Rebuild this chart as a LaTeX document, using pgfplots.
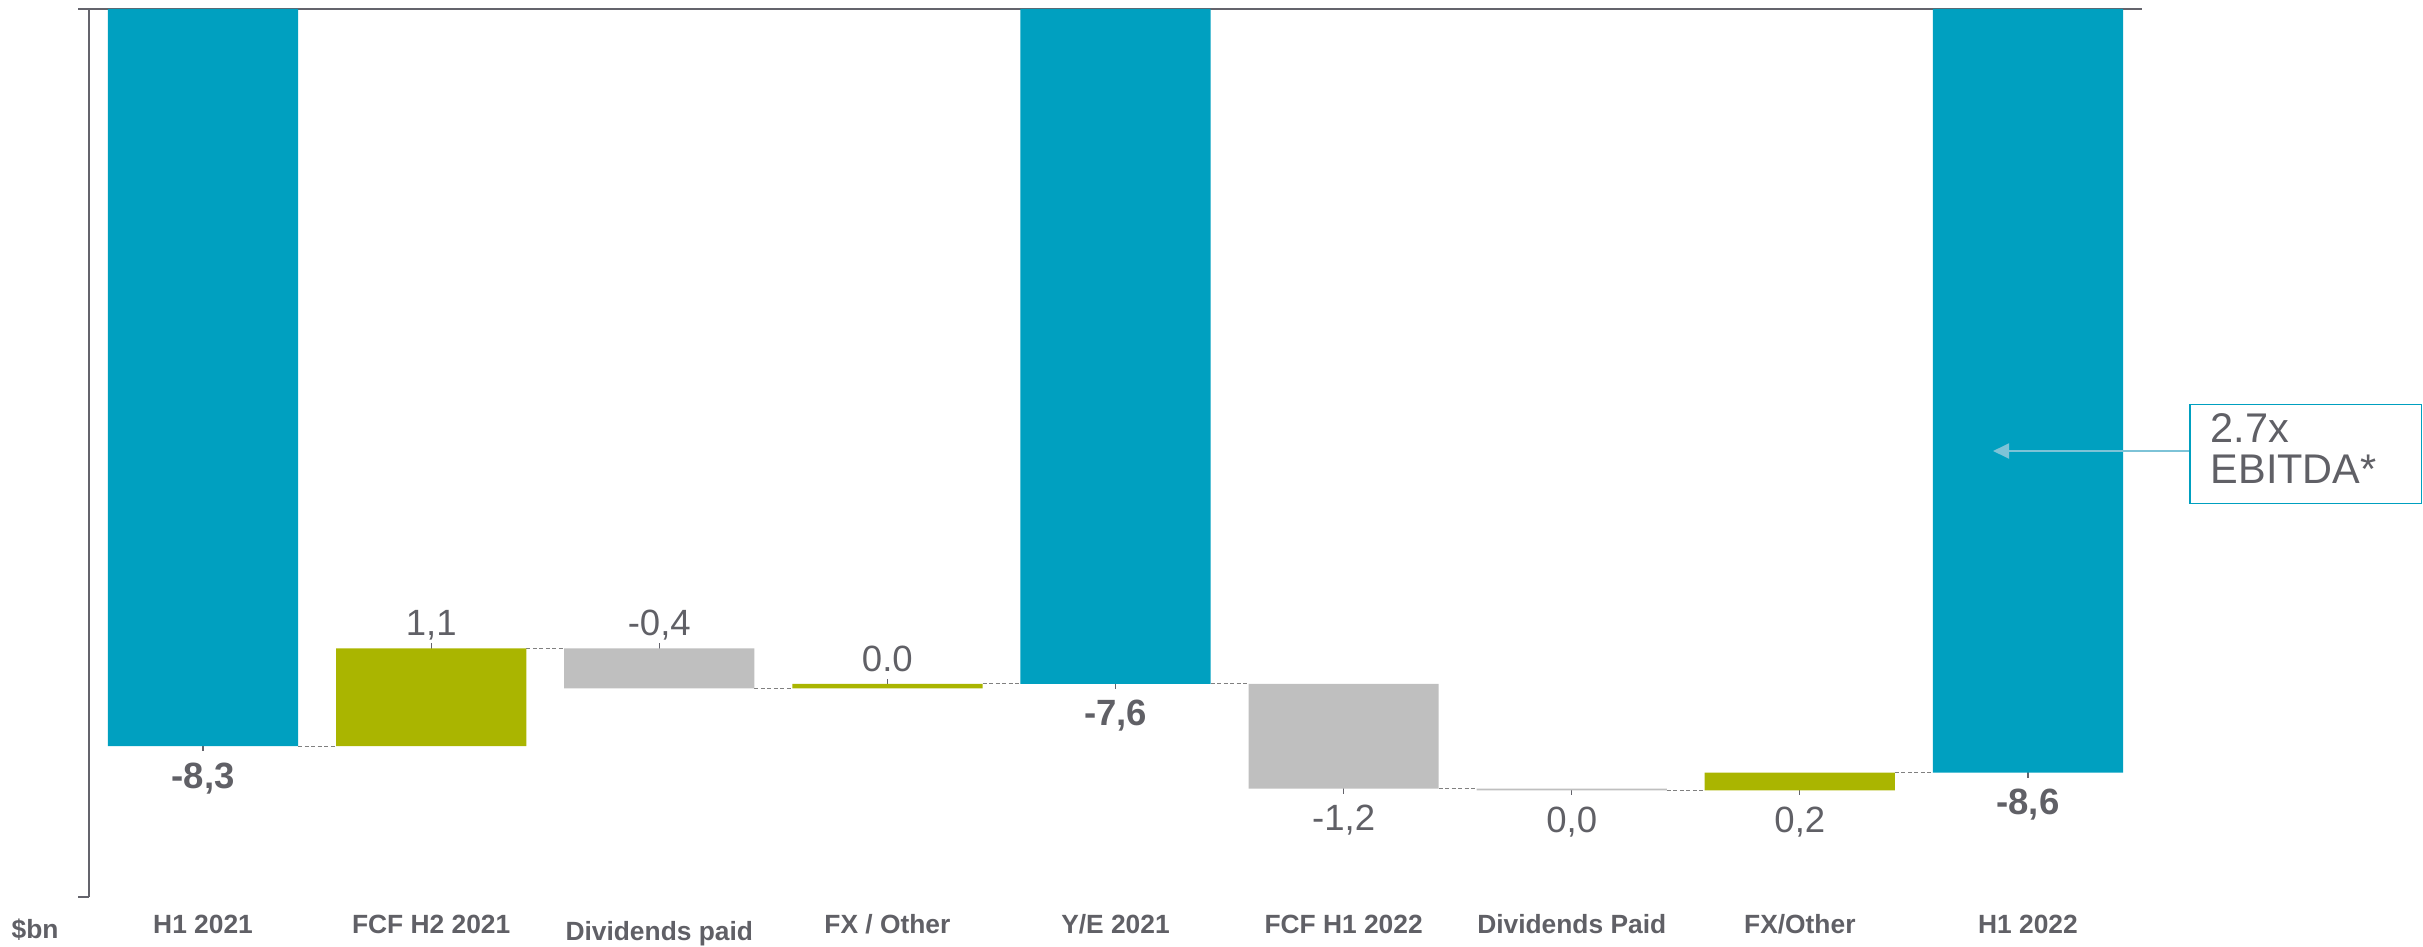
\documentclass[border=0pt]{standalone}
\usepackage{pgfplots}
\pgfplotsset{compat=1.18}
\usepackage{fontspec}
\setmainfont{Liberation Sans}
\usetikzlibrary{arrows.meta}

\definecolor{netdebt}{RGB}{0,160,192}
\definecolor{inflow}{RGB}{170,181,0}
\definecolor{outflow}{RGB}{191,191,191}
\definecolor{txt}{RGB}{96,96,102}
\definecolor{axisgray}{RGB}{100,100,108}
\definecolor{callout}{RGB}{125,195,215}

\tikzset{
  leader/.style={draw=axisgray, line width=0.12mm},
  bridge/.style={draw=black!50, line width=0.1mm, dash pattern=on 0.4mm off 0.25mm},
  vlab/.style={anchor=base, inner sep=0pt, text=txt, font=\fontsize{10.4}{12}\selectfont},
  vlabbold/.style={vlab, font=\fontsize{10.4}{12}\selectfont\bfseries},
}

\begin{document}
\begin{tikzpicture}
\path[use as bounding box] (0,0) rectangle (242.3mm,94.6mm);
\begin{axis}[
  at={(8.9mm,4.9mm)}, anchor=south west,
  scale only axis, width=205.3mm, height=88.8mm,
  xmin=-0.5, xmax=8.5, ymin=-10, ymax=0,
  ybar stacked, bar width=0.834,
  axis y line*=left, axis x line*=bottom,
  x axis line style={draw=none},
  y axis line style={draw=axisgray, line width=0.15mm},
  ytick=\empty,
  xtick={0,...,8},
  xticklabels={H1 2021, FCF H2 2021, \raisebox{-0.7mm}{Dividends paid}, FX / Other, Y/E 2021, FCF H1 2022, Dividends Paid, FX/Other, H1 2022},
  major tick length=0pt,
  x tick style={draw=none},
  xticklabel style={anchor=base, yshift=-3.6mm, text=txt, font=\fontsize{7.5}{9}\selectfont\bfseries},
  clip=false,
]
% upper edge of each floating bar (invisible base of the stack)
\addplot[draw=none, fill=none] coordinates {(0,0) (1,-7.2) (2,-7.2) (3,-7.6) (4,0) (5,-7.6) (6,-8.78) (7,-8.6) (8,0)};
% net debt positions
\addplot[fill=netdebt, draw=none] coordinates {(0,-8.3) (1,0) (2,0) (3,0) (4,-7.6) (5,0) (6,0) (7,0) (8,-8.6)};
% reductions of net debt (bar height = size of the step)
\addplot[fill=inflow, draw=none] coordinates {(0,0) (1,-1.1) (2,0) (3,-0.05) (4,0) (5,0) (6,0) (7,-0.2) (8,0)};
% increases of net debt
\addplot[fill=outflow, draw=none] coordinates {(0,0) (1,0) (2,-0.45) (3,0) (4,0) (5,-1.18) (6,-0.02) (7,0) (8,0)};

% bridges between consecutive bars
\draw[bridge] (axis cs:0.417,-8.3) -- (axis cs:0.583,-8.3);
\draw[bridge] (axis cs:1.417,-7.2) -- (axis cs:1.583,-7.2);
\draw[bridge] (axis cs:2.417,-7.65) -- (axis cs:2.583,-7.65);
\draw[bridge] (axis cs:3.417,-7.6) -- (axis cs:3.583,-7.6);
\draw[bridge] (axis cs:4.417,-7.6) -- (axis cs:4.583,-7.6);
\draw[bridge] (axis cs:5.417,-8.78) -- (axis cs:5.583,-8.78);
\draw[bridge] (axis cs:6.417,-8.8) -- (axis cs:6.583,-8.8);
\draw[bridge] (axis cs:7.417,-8.6) -- (axis cs:7.583,-8.6);

% value labels with their leader ticks
\draw[leader] ([yshift=1.6mm]axis cs:0,-8.3) -- ([yshift=-0.5mm]axis cs:0,-8.3);
\node[vlabbold, yshift=-4.2mm] at (axis cs:0,-8.3) {-8,3};
\draw[leader] ([yshift=0.5mm]axis cs:1,-7.2) -- ([yshift=-1.6mm]axis cs:1,-7.2);
\node[vlab, yshift=1.27mm] at (axis cs:1,-7.2) {1,1};
\draw[leader] ([yshift=0.5mm]axis cs:2,-7.2) -- ([yshift=-1.6mm]axis cs:2,-7.2);
\node[vlab, yshift=1.27mm] at (axis cs:2,-7.2) {-0,4};
\draw[leader] ([yshift=0.47mm]axis cs:3,-7.6) -- ([yshift=-0.43mm]axis cs:3,-7.6);
\node[vlab, yshift=1.27mm] at (axis cs:3,-7.6) {0.0};
\draw[leader] ([yshift=1.6mm]axis cs:4,-7.6) -- ([yshift=-0.5mm]axis cs:4,-7.6);
\node[vlabbold, yshift=-4.2mm] at (axis cs:4,-7.6) {-7,6};
\draw[leader] ([yshift=1.6mm]axis cs:5,-8.78) -- ([yshift=-0.5mm]axis cs:5,-8.78);
\node[vlab, yshift=-4.2mm] at (axis cs:5,-8.78) {-1,2};
\draw[leader] (axis cs:6,-8.8) -- ([yshift=-0.5mm]axis cs:6,-8.8);
\node[vlab, yshift=-4.2mm] at (axis cs:6,-8.8) {0,0};
\draw[leader] ([yshift=0.97mm]axis cs:7,-8.8) -- ([yshift=-0.5mm]axis cs:7,-8.8);
\node[vlab, yshift=-4.2mm] at (axis cs:7,-8.8) {0,2};
\draw[leader] ([yshift=1.6mm]axis cs:8,-8.6) -- ([yshift=-0.5mm]axis cs:8,-8.6);
\node[vlabbold, yshift=-4.2mm] at (axis cs:8,-8.6) {-8,6};

% zero line along the top and the small stub at the foot of the value axis
\draw[axisgray, line width=0.2mm] ([xshift=-1.1mm]rel axis cs:0,1) -- (rel axis cs:1,1);
\draw[axisgray, line width=0.15mm] ([xshift=-1.1mm]rel axis cs:0,0) -- (rel axis cs:0,0);
\end{axis}

% unit label
\node[anchor=base west, inner sep=0pt, text=txt, font=\fontsize{7.5}{9}\selectfont\bfseries] at (1.1mm,0.8mm) {\$bn};

% leverage call-out
\draw[callout, line width=0.2mm, -{Triangle[length=1.6mm,width=1.5mm]}] (219.0mm,49.5mm) -- (199.3mm,49.5mm);
\draw[netdebt, line width=0.15mm] (219.0mm,44.25mm) rectangle (242.15mm,54.15mm);
\node[anchor=base west, inner sep=0pt, text=txt, font=\fontsize{11.8}{14}\selectfont] at (221.0mm,50.4mm) {2.7x};
\node[anchor=base west, inner sep=0pt, text=txt, font=\fontsize{11.8}{14}\selectfont] at (221.0mm,46.3mm) {EBITDA*};
\end{tikzpicture}
\end{document}
